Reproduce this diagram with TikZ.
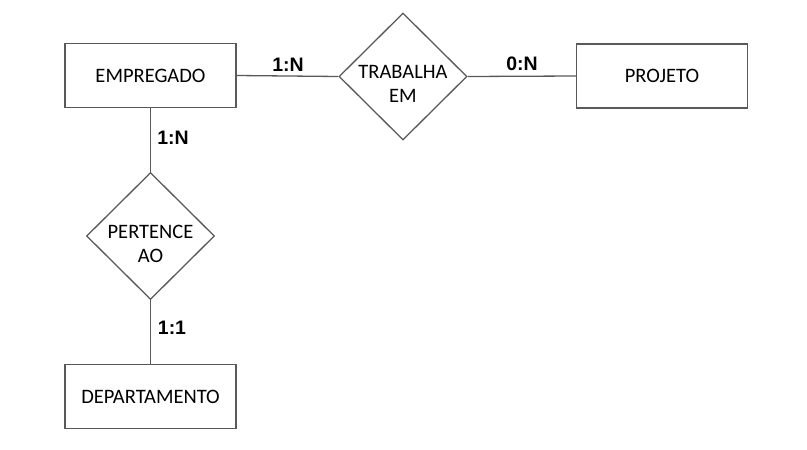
\documentclass[tikz,border=0pt]{standalone}
\usepackage{fontspec}
\setmainfont{Carlito}
\newfontfamily\labfont{Liberation Sans}
\usetikzlibrary{shapes.geometric}
\begin{document}
\begin{tikzpicture}[x=1pt,y=-1pt,
  entity/.style={draw=black!65,line width=1.3pt,minimum width=171pt,minimum height=64pt,inner sep=0pt,font=\fontsize{20.5}{24}\selectfont},
  rel/.style={draw=black!65,line width=1.3pt,diamond,minimum width=128pt,minimum height=127pt,inner sep=0pt},
  reltext/.style={align=center,font=\fontsize{20.5}{24}\selectfont,inner sep=0pt},
  conn/.style={draw=black!65,line width=1.3pt},
  card/.style={font=\labfont\bfseries\fontsize{19.5}{22}\selectfont,inner sep=0pt}]
\useasboundingbox (0,0) rectangle (807,450);
\node[entity] (emp) at (150.5,75.5) {EMPREGADO};
\node[entity] (proj) at (662,76) {PROJETO};
\node[entity] (dep) at (150.5,396.5) {DEPARTAMENTO};
\node[rel] (trab) at (403,76.5) {};
\node[reltext] (trabt) at (403,84) {TRABALHA\\EM};
\node[rel] (pert) at (150.5,236) {};
\node[reltext] (pertt) at (150.5,244) {PERTENCE\\AO};
\draw[conn] (emp.east) -- (trab.west);
\draw[conn] (trab.east) -- (proj.west);
\draw[conn] (emp.south) -- (pert.north);
\draw[conn] (pert.south) -- (dep.north);
\node[card] (c1) at (288,65) {1:N};
\node[card] (c2) at (522,64) {0:N};
\node[card] (c3) at (173,138) {1:N};
\node[card] (c4) at (172,328) {1:1};
\end{tikzpicture}
\end{document}
